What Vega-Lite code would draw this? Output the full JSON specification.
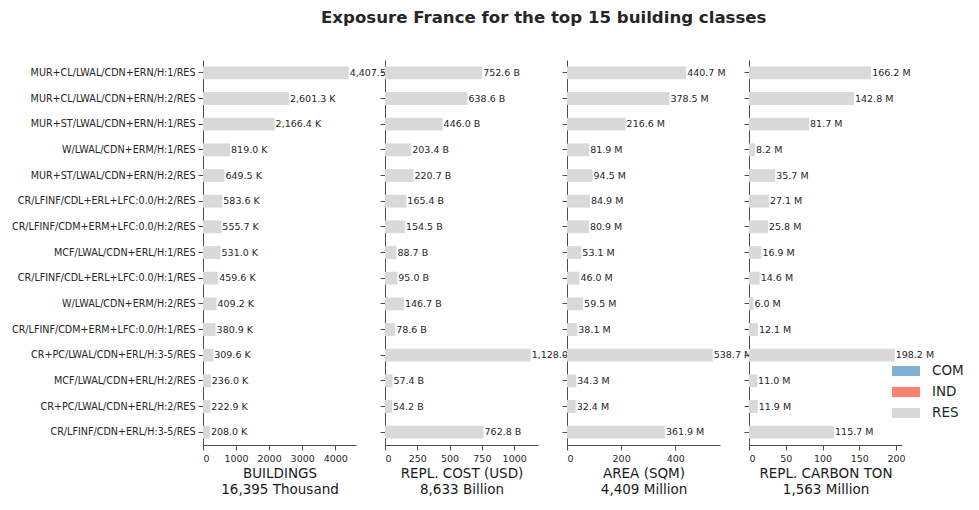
{
  "$schema": "https://vega.github.io/schema/vega-lite/v6.json",
  "padding": {"left": 11, "top": 10, "right": 5, "bottom": 5},
  "bounds": "flush",
  "spacing": 29,
  "title": {"text": "Exposure France for the top 15 building classes", "fontSize": 16.6, "fontWeight": "bold", "font": "DejaVu Sans", "color": "#262626", "anchor": "middle", "offset": 33, "dx": 56},
  "data": {"values": [
    {"cls": "MUR+CL/LWAL/CDN+ERN/H:1/RES", "occ": "RES", "buildings": 4407.5, "cost": 752.6, "area": 440.7, "carbon": 166.2},
    {"cls": "MUR+CL/LWAL/CDN+ERN/H:2/RES", "occ": "RES", "buildings": 2601.3, "cost": 638.6, "area": 378.5, "carbon": 142.8},
    {"cls": "MUR+ST/LWAL/CDN+ERN/H:1/RES", "occ": "RES", "buildings": 2166.4, "cost": 446.0, "area": 216.6, "carbon": 81.7},
    {"cls": "W/LWAL/CDN+ERM/H:1/RES", "occ": "RES", "buildings": 819.0, "cost": 203.4, "area": 81.9, "carbon": 8.2},
    {"cls": "MUR+ST/LWAL/CDN+ERN/H:2/RES", "occ": "RES", "buildings": 649.5, "cost": 220.7, "area": 94.5, "carbon": 35.7},
    {"cls": "CR/LFINF/CDL+ERL+LFC:0.0/H:2/RES", "occ": "RES", "buildings": 583.6, "cost": 165.4, "area": 84.9, "carbon": 27.1},
    {"cls": "CR/LFINF/CDM+ERM+LFC:0.0/H:2/RES", "occ": "RES", "buildings": 555.7, "cost": 154.5, "area": 80.9, "carbon": 25.8},
    {"cls": "MCF/LWAL/CDN+ERL/H:1/RES", "occ": "RES", "buildings": 531.0, "cost": 88.7, "area": 53.1, "carbon": 16.9},
    {"cls": "CR/LFINF/CDL+ERL+LFC:0.0/H:1/RES", "occ": "RES", "buildings": 459.6, "cost": 95.0, "area": 46.0, "carbon": 14.6},
    {"cls": "W/LWAL/CDN+ERM/H:2/RES", "occ": "RES", "buildings": 409.2, "cost": 146.7, "area": 59.5, "carbon": 6.0},
    {"cls": "CR/LFINF/CDM+ERM+LFC:0.0/H:1/RES", "occ": "RES", "buildings": 380.9, "cost": 78.6, "area": 38.1, "carbon": 12.1},
    {"cls": "CR+PC/LWAL/CDN+ERL/H:3-5/RES", "occ": "RES", "buildings": 309.6, "cost": 1128.0, "area": 538.7, "carbon": 198.2},
    {"cls": "MCF/LWAL/CDN+ERL/H:2/RES", "occ": "RES", "buildings": 236.0, "cost": 57.4, "area": 34.3, "carbon": 11.0},
    {"cls": "CR+PC/LWAL/CDN+ERL/H:2/RES", "occ": "RES", "buildings": 222.9, "cost": 54.2, "area": 32.4, "carbon": 11.9},
    {"cls": "CR/LFINF/CDN+ERL/H:3-5/RES", "occ": "RES", "buildings": 208.0, "cost": 762.8, "area": 361.9, "carbon": 115.7}
  ]},
  "transform": [
    {"calculate": "format(datum.buildings, ',.1f') + ' K'", "as": "lb_buildings"},
    {"calculate": "format(datum.cost, ',.1f') + ' B'", "as": "lb_cost"},
    {"calculate": "format(datum.area, ',.1f') + ' M'", "as": "lb_area"},
    {"calculate": "format(datum.carbon, ',.1f') + ' M'", "as": "lb_carbon"}
  ],
  "hconcat": [
    {
      "width": 153, "height": 385,
      "encoding": {
        "y": {"field": "cls", "type": "nominal", "sort": null, "title": null,
              "scale": {"paddingInner": 0.5, "paddingOuter": 0.25},
              "axis": {"labelFontSize": 9.6, "labelLimit": 300, "labelPadding": 3}},
        "x": {"field": "buildings", "type": "quantitative", "scale": {"domain": [0, 4628], "nice": false},
              "axis": {"values": [0, 1000, 2000, 3000, 4000], "format": "d", "title": ["BUILDINGS", "16,395 Thousand"]}}
      },
      "layer": [
        {"mark": {"type": "bar"}, "encoding": {"color": {"field": "occ", "type": "nominal", "title": null,
          "scale": {"domain": ["COM", "IND", "RES"], "range": ["#80b1d3", "#fb8072", "#d9d9d9"]}}}},
        {"mark": {"type": "text", "align": "left", "baseline": "middle", "dx": 1, "fontSize": 9.5, "color": "#262626"},
         "encoding": {"text": {"field": "lb_buildings"}}}
      ]
    },
    {
      "width": 153, "height": 385,
      "encoding": {
        "y": {"field": "cls", "type": "nominal", "sort": null, "title": null,
              "scale": {"paddingInner": 0.5, "paddingOuter": 0.25},
              "axis": {"labels": false}},
        "x": {"field": "cost", "type": "quantitative", "scale": {"domain": [0, 1184.4], "nice": false},
              "axis": {"values": [0, 250, 500, 750, 1000], "format": "d", "title": ["REPL. COST (USD)", "8,633 Billion"]}}
      },
      "layer": [
        {"mark": {"type": "bar"}, "encoding": {"color": {"field": "occ", "type": "nominal"}}},
        {"mark": {"type": "text", "align": "left", "baseline": "middle", "dx": 1, "fontSize": 9.5, "color": "#262626"},
         "encoding": {"text": {"field": "lb_cost"}}}
      ]
    },
    {
      "width": 153, "height": 385,
      "encoding": {
        "y": {"field": "cls", "type": "nominal", "sort": null, "title": null,
              "scale": {"paddingInner": 0.5, "paddingOuter": 0.25},
              "axis": {"labels": false}},
        "x": {"field": "area", "type": "quantitative", "scale": {"domain": [0, 565.6], "nice": false},
              "axis": {"values": [0, 200, 400], "format": "d", "title": ["AREA (SQM)", "4,409 Million"]}}
      },
      "layer": [
        {"mark": {"type": "bar"}, "encoding": {"color": {"field": "occ", "type": "nominal"}}},
        {"mark": {"type": "text", "align": "left", "baseline": "middle", "dx": 1, "fontSize": 9.5, "color": "#262626"},
         "encoding": {"text": {"field": "lb_area"}}}
      ]
    },
    {
      "width": 153, "height": 385,
      "encoding": {
        "y": {"field": "cls", "type": "nominal", "sort": null, "title": null,
              "scale": {"paddingInner": 0.5, "paddingOuter": 0.25},
              "axis": {"labels": false}},
        "x": {"field": "carbon", "type": "quantitative", "scale": {"domain": [0, 208.1], "nice": false},
              "axis": {"values": [0, 50, 100, 150, 200], "format": "d", "title": ["REPL. CARBON TON", "1,563 Million"]}}
      },
      "layer": [
        {"mark": {"type": "bar"}, "encoding": {"color": {"field": "occ", "type": "nominal"}}},
        {"mark": {"type": "text", "align": "left", "baseline": "middle", "dx": 1, "fontSize": 9.5, "color": "#262626"},
         "encoding": {"text": {"field": "lb_carbon"}}}
      ]
    }
  ],
  "resolve": {"scale": {"y": "shared"}},
  "config": {
    "font": "DejaVu Sans",
    "view": {"stroke": null},
    "axis": {"grid": false, "domainColor": "#4d4d4d", "tickColor": "#4d4d4d", "labelColor": "#262626", "tickSize": 5,
             "titleColor": "#1a1a1a", "titleFontWeight": "normal", "titleFontSize": 13.5, "labelFontSize": 9.5, "labelPadding": 3},
    "axisX": {"labelAngle": 0, "titlePadding": 4},
    "legend": {"orient": "none", "legendX": 689, "legendY": 297, "labelFontSize": 13.5, "labelColor": "#262626",
               "symbolType": "M-1,-0.36H1V0.36H-1Z", "symbolSize": 784, "symbolStrokeWidth": 0, "symbolOpacity": 1,
               "labelOffset": 12, "rowPadding": -7}
  }
}
